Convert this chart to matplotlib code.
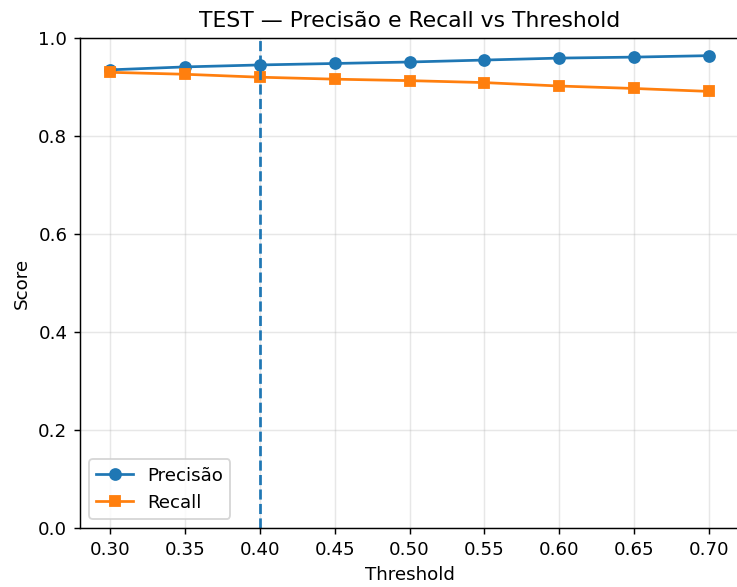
import matplotlib
matplotlib.use("Agg")
import matplotlib.pyplot as plt

thresholds = [0.30, 0.35, 0.40, 0.45, 0.50, 0.55, 0.60, 0.65, 0.70]
precision = [0.935, 0.941, 0.945, 0.948, 0.951, 0.955, 0.959, 0.961, 0.964]
recall = [0.930, 0.926, 0.920, 0.916, 0.913, 0.909, 0.902, 0.897, 0.891]
chosen_threshold = 0.40
xtick_labels = ["0.30", "0.35", "0.40", "0.45", "0.50", "0.55", "0.60", "0.65", "0.70"]

DPI = 131
fig = plt.figure(figsize=(737 / DPI, 587 / DPI), dpi=DPI)
W, H = 737, 587
ax = fig.add_axes([80 / W, (H - 528) / H, (739 - 80) / W, (528 - 38) / H])

ax.plot(thresholds, precision, marker="o", label="Precisão")
ax.plot(thresholds, recall, marker="s", label="Recall")
ax.axvline(chosen_threshold, linestyle="--")

ax.set_ylim(0, 1)
ax.set_xticks(thresholds)
ax.set_xticklabels(xtick_labels)
ax.set_xlabel("Threshold")
ax.set_ylabel("Score")
ax.set_title("TEST — Precisão e Recall vs Threshold")
ax.grid(True, alpha=0.3)
ax.legend(loc="lower left")

fig.savefig("out.png", dpi=DPI)
